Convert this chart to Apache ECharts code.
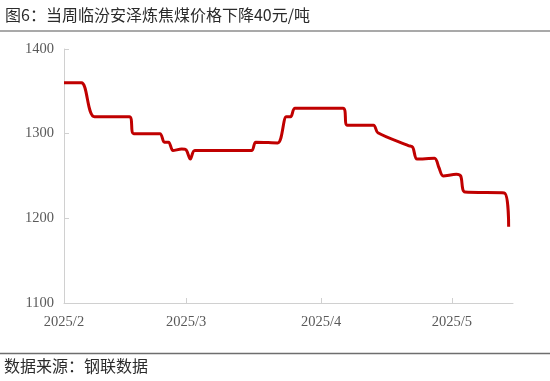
<!DOCTYPE html>
<html>
<head>
<meta charset="utf-8">
<script src="https://cdn.jsdelivr.net/npm/echarts@6/dist/echarts.min.js"></script>
<style>
html,body{margin:0;padding:0;background:#ffffff;}
#chart{width:550px;height:381px;}
</style>
</head>
<body>
<div id="chart"></div>
<script>
// Data
const titleText = '图6：当周临汾安泽炼焦煤价格下降40元/吨';
const sourceText = '数据来源：钢联数据';
const dates = [
  '2025-02-01','2025-02-05','2025-02-08','2025-02-16','2025-02-17','2025-02-23',
  '2025-02-24','2025-02-25','2025-02-26','2025-02-28','2025-03-01','2025-03-02',
  '2025-03-03','2025-03-16','2025-03-17','2025-03-22','2025-03-24','2025-03-25',
  '2025-03-26','2025-04-06','2025-04-07','2025-04-13','2025-04-14','2025-04-21',
  '2025-04-22','2025-04-23','2025-04-27','2025-04-28','2025-04-29','2025-05-02',
  '2025-05-03','2025-05-04','2025-05-13','2025-05-14'
];
const prices = [
  1360,1360,1320,1320,1300,1300,
  1290,1290,1280,1282,1281,1270,
  1280,1280,1290,1289,1320,1320,
  1330,1330,1310,1310,1301,1286,
  1284,1270,1271,1260,1250,1252,
  1250,1231,1230,1190
];
const monthTicks = ['2025-02-01','2025-03-01','2025-04-01','2025-05-01'];
const monthLabels = ['2025/2','2025/3','2025/4','2025/5'];
const yMin = 1100, yMax = 1400, yStep = 100;
const xMin = '2025-02-01', xMax = '2025-05-15';

const DAY = 86400000;
const toDay = d => Date.UTC(+d.slice(0,4), +d.slice(5,7) - 1, +d.slice(8,10)) / DAY;

const chart = echarts.init(document.getElementById('chart'), null, {renderer: 'canvas'});
const tickDays = monthTicks.map(toDay);
const labelFont = {fontFamily: '"Liberation Serif", "Times New Roman", serif', fontSize: 14.5, color: '#595959'};

chart.setOption({
  backgroundColor: '#ffffff',
  animation: false,
  grid: {left: 64, right: 37, top: 49, bottom: 78, containLabel: false},
  xAxis: {
    type: 'value',
    min: toDay(xMin),
    max: toDay(xMax),
    axisLine: {show: true, onZero: false, lineStyle: {color: '#d0d0d0', width: 1}},
    axisTick: {show: true, inside: true, length: 5, lineStyle: {color: '#d0d0d0'},
      customValues: tickDays},
    axisLabel: Object.assign({
      margin: 12,
      customValues: tickDays,
      formatter: function (v) {
        const i = tickDays.indexOf(v);
        return i >= 0 ? monthLabels[i] : '';
      }
    }, labelFont),
    splitLine: {show: false}
  },
  yAxis: {
    type: 'value',
    min: yMin, max: yMax, interval: yStep,
    axisLine: {show: true, lineStyle: {color: '#d0d0d0', width: 1}},
    axisTick: {show: true, inside: true, length: 5, lineStyle: {color: '#d0d0d0'}},
    axisLabel: Object.assign({margin: 10, formatter: v => String(v)}, labelFont),
    splitLine: {show: false}
  },
  series: [{
    type: 'line',
    data: dates.map((d, i) => [toDay(d), prices[i]]),
    showSymbol: false,
    smooth: 0.3,
    lineStyle: {color: '#C00000', width: 3},
    itemStyle: {color: '#C00000'}
  }],
  graphic: [
    {type: 'text', left: 5, top: 7, style: {text: titleText, fontFamily: '"Noto Sans CJK SC", sans-serif', fontSize: 16, fill: '#2b2b2b'}},
    {type: 'line', shape: {x1: 0, y1: 31, x2: 550, y2: 31}, style: {stroke: '#8c8c8c', lineWidth: 1.5}},
    {type: 'line', shape: {x1: 0, y1: 353.5, x2: 550, y2: 353.5}, style: {stroke: '#6e6e6e', lineWidth: 1.5}},
    {type: 'text', left: 4, top: 358, style: {text: sourceText, fontFamily: '"Noto Sans CJK SC", sans-serif', fontSize: 16, fill: '#2b2b2b'}}
  ]
});
</script>
</body>
</html>
